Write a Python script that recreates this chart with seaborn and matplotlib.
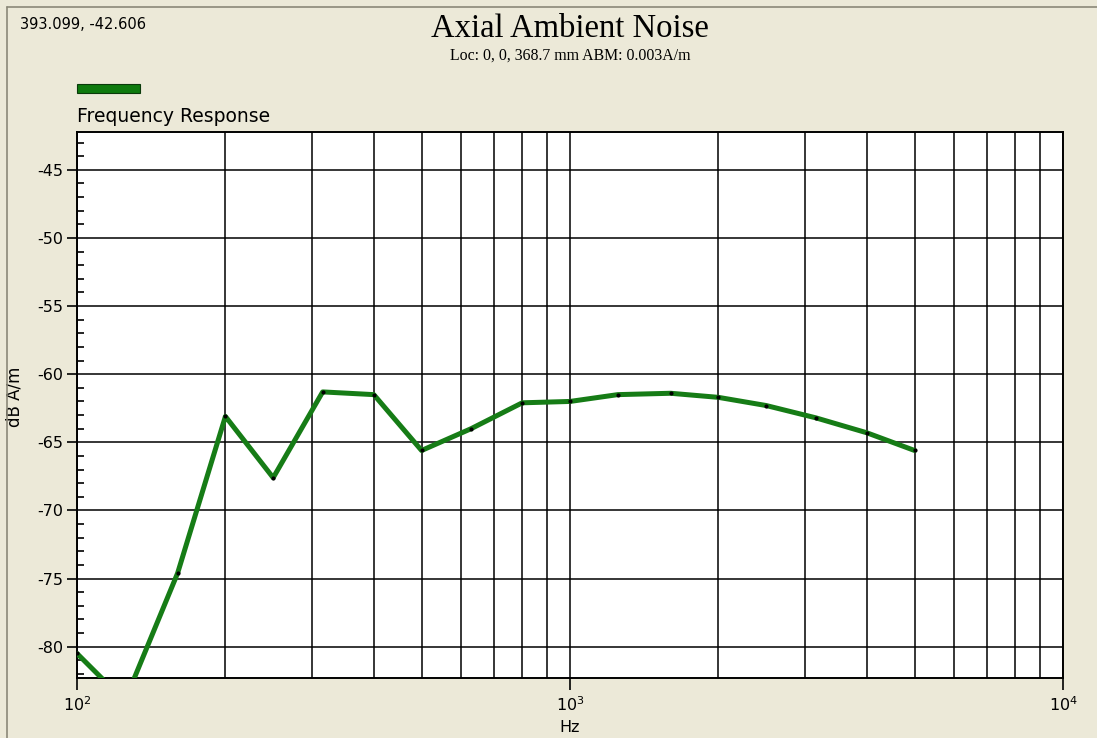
import numpy as np
import pandas as pd
import matplotlib
matplotlib.use('Agg')
import matplotlib.pyplot as plt
from matplotlib.lines import Line2D
from matplotlib.patches import Rectangle
from matplotlib.ticker import LogLocator, MultipleLocator, NullFormatter
import seaborn as sns

# Данные: 1/3-октавные частоты и уровень (дБ А/м)
freq_hz = [100, 125, 160, 200, 250, 315, 400, 500, 630, 800,
           1000, 1250, 1600, 2000, 2500, 3150, 4000, 5000]
level_db = [-80.5, -84.0, -74.6, -63.1, -67.6, -61.3, -61.5, -65.6, -64.0, -62.1,
            -62.0, -61.5, -61.4, -61.7, -62.3, -63.2, -64.3, -65.6]
y_ticks = [-80, -75, -70, -65, -60, -55, -50, -45]
series_name = 'Frequency Response'
title = 'Axial Ambient Noise'
subtitle = 'Loc: 0, 0, 368.7 mm ABM: 0.003A/m'
cursor_text = '393.099, -42.606'

BG = '#ece9d8'
GREEN = '#167c16'
W, H = 1097, 738

sns.set_style('white')
plt.rcParams['font.family'] = ['DejaVu Sans']
plt.rcParams['mathtext.fontset'] = 'dejavusans'
plt.rcParams['axes.unicode_minus'] = False
plt.rcParams['text.color'] = 'black'
plt.rcParams['axes.labelcolor'] = 'black'
plt.rcParams['xtick.color'] = 'black'
plt.rcParams['ytick.color'] = 'black'

df = pd.DataFrame({'Hz': freq_hz, 'dB': level_db})

fig = plt.figure(figsize=(W / 100, H / 100), dpi=100, facecolor=BG)
ax = fig.add_axes([77 / W, 1 - 678 / H, (1063 - 77) / W, (678 - 131.7) / H])
ax.set_facecolor('white')

sns.lineplot(data=df, x='Hz', y='dB', ax=ax, color=GREEN, linewidth=3.6,
             marker='o', markersize=3, markerfacecolor='black',
             markeredgecolor='black', markeredgewidth=0, zorder=5)

ax.set_xscale('log')
ax.set_xlim(100, 10000)
ax.set_ylim(-82.3, -42.2)

ax.xaxis.set_major_locator(LogLocator(base=10, numticks=10))
ax.xaxis.set_minor_locator(LogLocator(base=10, subs=np.arange(2, 10), numticks=20))
ax.xaxis.set_minor_formatter(NullFormatter())
ax.set_yticks(y_ticks)
ax.yaxis.set_minor_locator(MultipleLocator(1))

ax.grid(True, which='both', axis='x', color='black', linewidth=1.1)
ax.grid(True, which='major', axis='y', color='black', linewidth=1.1)
ax.grid(False, which='minor', axis='y')

ax.tick_params(axis='x', which='major', direction='out', length=8.5, width=1.2,
               labelsize=11.5, pad=4, color='black', bottom=True)
ax.tick_params(axis='x', which='minor', length=0)
ax.tick_params(axis='y', which='major', direction='out', length=7, width=1.2,
               labelsize=11.5, pad=3, color='black', left=True)
ax.tick_params(axis='y', which='minor', direction='in', length=5, width=1.2,
               color='black', left=True)

for s in ax.spines.values():
    s.set_color('black')
    s.set_linewidth(1.4)

ax.set_xlabel('Hz', fontsize=11.5, labelpad=4)
ax.set_ylabel('dB A/m', fontsize=12)
ax.yaxis.set_label_coords(-0.054, 0.515)

# заголовки
fig.text(570 / W, 1 - 36.7 / H, title, ha='center', va='baseline',
         fontsize=23.5, family='Liberation Serif')
fig.text(570 / W, 1 - 60 / H, subtitle, ha='center', va='baseline',
         fontsize=11.4, family='Liberation Serif')
fig.text(20 / W, 1 - 29 / H, cursor_text, ha='left', va='baseline', fontsize=10.5)

# легенда
fig.patches.append(Rectangle((77 / W, 1 - 93 / H), 63 / W, 9 / H,
                             transform=fig.transFigure, facecolor='#0e7a0e',
                             edgecolor='#0a3a0a', linewidth=0.8))
fig.text(77 / W, 1 - 122 / H, series_name, ha='left', va='baseline', fontsize=13.5)

# рамка окна
fig.lines.append(Line2D([7 / W, 1], [1 - 6.5 / H, 1 - 6.5 / H], transform=fig.transFigure,
                        color='#8b8878', linewidth=1.2))
fig.lines.append(Line2D([7 / W, 7 / W], [0, 1 - 6.5 / H], transform=fig.transFigure,
                        color='#8b8878', linewidth=1.2))

fig.savefig('out.png', dpi=100, facecolor=BG)
